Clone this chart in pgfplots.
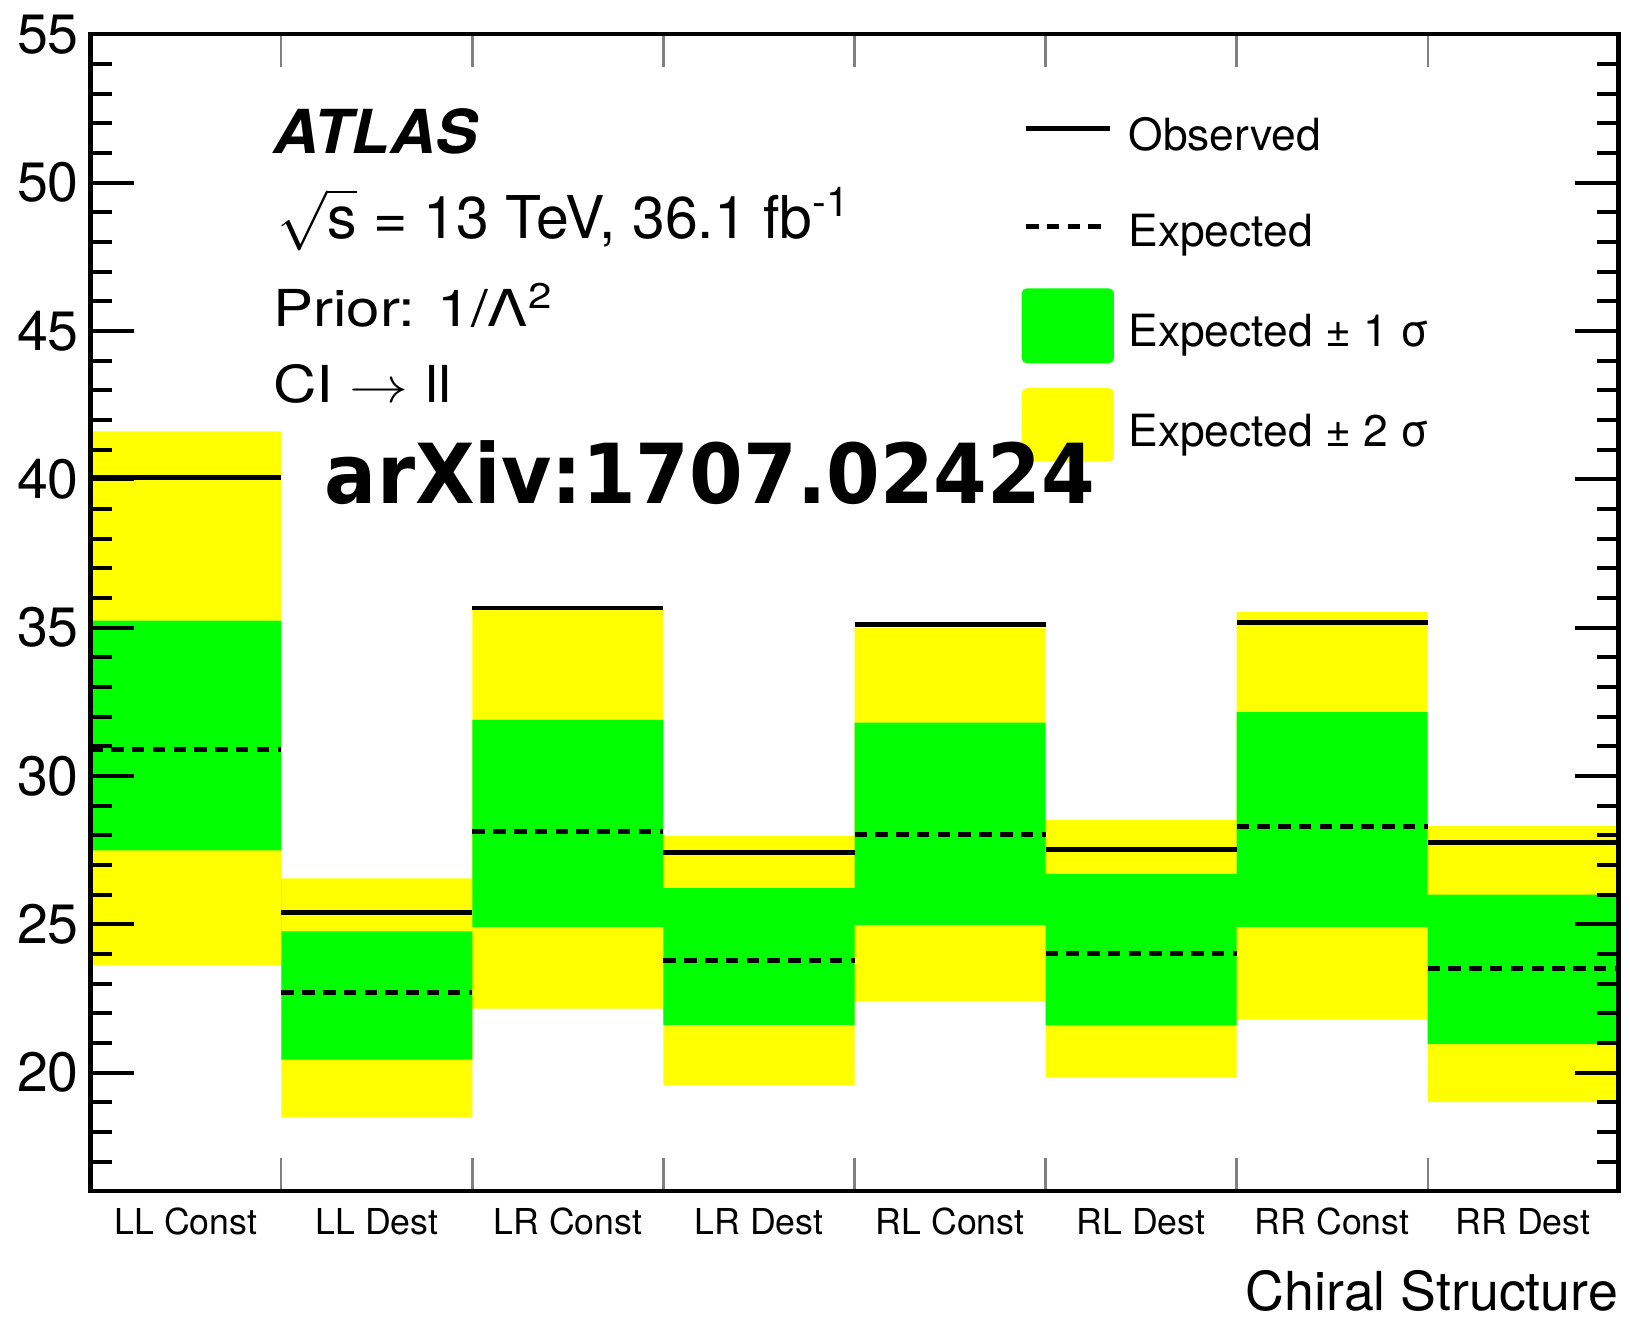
\documentclass[border=0pt]{standalone}
\usepackage{fontspec}
\setmainfont{TeX Gyre Heros}
\newfontfamily\arxivfont{DejaVu Sans}
\usepackage{graphicx}
\usepackage{pgfplots}
\pgfplotsset{compat=1.18}
\usepackage{pgfplotstable}
\usepgfplotslibrary{fillbetween}
\definecolor{rootgreen}{RGB}{0,255,0}
\definecolor{rootyellow}{RGB}{255,255,0}

% bin, -2sigma, -1sigma, expected, +1sigma, +2sigma, observed
\pgfplotstableread{
x lotwo loone exp hione hitwo obs
0 23.63 27.49 30.90 35.24 41.62 40.05
1 18.51 20.44 22.69 24.76 26.55 25.39
2 22.16 24.91 28.14 31.89 35.60 35.66
3 19.58 21.61 23.77 26.22 27.97 27.43
4 22.42 24.98 28.02 31.80 35.00 35.12
5 19.83 21.59 24.01 26.70 28.51 27.52
6 21.79 24.91 28.29 32.15 35.53 35.18
7 19.01 20.96 23.51 26.00 28.32 27.75
8 19.01 20.96 23.51 26.00 28.32 27.75
}\limits

\begin{document}
\begin{tikzpicture}
\begin{axis}[
  name=ax, at={(0,0)}, anchor=south west,
  scale only axis, width=441pt, height=333.9pt,
  xmin=0, xmax=8, ymin=16, ymax=55,
  xtick={0,...,8},
  xticklabels={LL Const, LL Dest, LR Const, LR Dest, RL Const, RL Dest, RR Const, RR Dest},
  x tick label as interval,
  ytick={20,25,...,55},
  minor ytick={16,...,55},
  tick align=inside,
  axis line style={line width=1.2pt},
  major tick length=12.7pt, minor tick length=6.1pt,
  ytick style={line width=1.1pt, black},
  xtick style={line width=0.6pt, /pgfplots/major tick length=9.5pt},
  yticklabel style={font=\fontsize{16}{19}\selectfont, anchor=east, inner sep=0pt, xshift=-3.2pt},
  xticklabel style={font=\fontsize{10.3}{12}\selectfont, anchor=base, yshift=-12.6pt},
  /pgf/number format/assume math mode=true,
  axis on top, clip=false,
  xlabel={Chiral Structure},
  xlabel style={at={(rel axis cs:1,0)}, anchor=base east, yshift=-34.3pt, inner sep=0pt, font=\fontsize{15.5}{18}\selectfont},
]
\addplot[draw=none, const plot mark left, name path=lotwo, forget plot] table[x=x, y=lotwo]{\limits};
\addplot[draw=none, const plot mark left, name path=hitwo, forget plot] table[x=x, y=hitwo]{\limits};
\addplot[draw=none, const plot mark left, name path=loone, forget plot] table[x=x, y=loone]{\limits};
\addplot[draw=none, const plot mark left, name path=hione, forget plot] table[x=x, y=hione]{\limits};
\addplot[fill=rootyellow, draw=none, forget plot] fill between[of=hitwo and lotwo];
\addplot[fill=rootgreen, draw=none, forget plot] fill between[of=hione and loone];
\addplot[black, line width=1.4pt, dash pattern=on 3.6pt off 2.4pt, jump mark left, forget plot] table[x=x, y=exp]{\limits};
\addplot[black, line width=1.4pt, jump mark left, forget plot] table[x=x, y=obs]{\limits};

% legend samples
\addplot[black, line width=1.4pt, forget plot] coordinates {(4.898,51.83) (5.339,51.83)};
\addplot[black, line width=1.4pt, dash pattern=on 3.6pt off 2.4pt, forget plot] coordinates {(4.898,48.52) (5.295,48.52)};
\addplot[fill=rootgreen, draw=none, rounded corners=1.5pt, forget plot] coordinates {(4.875,43.91) (4.875,46.44) (5.358,46.44) (5.358,43.91)} -- cycle;
\addplot[fill=rootyellow, draw=none, rounded corners=1.5pt, forget plot] coordinates {(4.875,40.60) (4.875,43.07) (5.358,43.07) (5.358,40.60)} -- cycle;

\node[anchor=base west, inner sep=0pt, font=\fontsize{12.8}{15}\selectfont] at (axis cs:5.431,51.08) {Observed};
\node[anchor=base west, inner sep=0pt, font=\fontsize{12.8}{15}\selectfont] at (axis cs:5.431,47.84) {Expected};
\node[anchor=base west, inner sep=0pt, font=\fontsize{12.8}{15}\selectfont] at (axis cs:5.431,44.47) {Expected ± 1 σ};
\node[anchor=base west, inner sep=0pt, font=\fontsize{12.8}{15}\selectfont] at (axis cs:5.431,41.10) {Expected ± 2 σ};

\node[anchor=base west, inner sep=0pt] at (axis cs:0.953,50.97) {\scalebox{1.04}[1]{\fontsize{17.5}{20}\selectfont\bfseries\itshape ATLAS}};
\node[anchor=base west, inner sep=0pt, font=\fontsize{17}{20}\selectfont] at (axis cs:0.975,48.12) {$\smash{\sqrt{\mbox{s}}}$ = 13 TeV, 36.1 fb\textsuperscript{-1}};
\node[anchor=base west, inner sep=0pt] at (axis cs:0.953,45.15) {\scalebox{1.18}[1]{\fontsize{14.7}{17}\selectfont Prior: 1/Λ\textsuperscript{2}}};
\node[anchor=base west, inner sep=0pt] at (axis cs:0.953,42.58) {\scalebox{1.18}[1]{\fontsize{14.7}{17}\selectfont CI $\rightarrow$ ll}};
\node[anchor=base west, inner sep=0pt] at (axis cs:1.224,39.17) {\scalebox{0.932}[1]{\arxivfont\bfseries\fontsize{23.9}{28}\selectfont arXiv:1707.02424}};
\end{axis}
\pgfresetboundingbox
\useasboundingbox (-26.1pt,-36.3pt) rectangle (444.3pt,343.8pt);
\end{tikzpicture}
\end{document}
